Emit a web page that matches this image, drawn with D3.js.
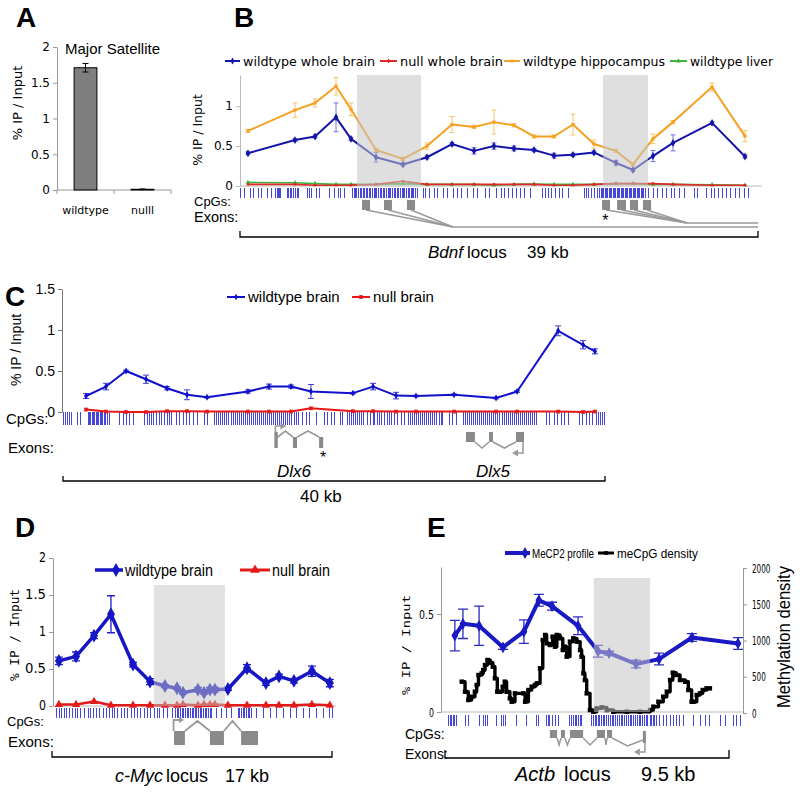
<!DOCTYPE html>
<html><head><meta charset="utf-8">
<script src="https://cdn.jsdelivr.net/npm/d3@7"></script>
<style>body{margin:0;background:#fff}svg{display:block}</style>
</head><body>
<script>
// ---------------- DATA ----------------
// Panel A
const aCategories = ["wildtype", "nulll"];
const aValues = [1.71, 0.01];
const aErrors = [0.06, 0.004];
const aYTicks = [0, 0.5, 1, 1.5, 2];

// Panel B (positions in kb along the 39 kb Bdnf locus)
const bPos = [0.60,4.14,5.65,7.23,8.36,10.24,12.27,14.08,15.96,17.62,19.12,20.63,22.14,23.64,25.07,26.65,28.31,29.59,31.09,32.60,35.54,38.02];
const bWtBrain = [0.41,0.575,0.62,0.86,0.59,0.36,0.27,0.36,0.525,0.44,0.50,0.47,0.45,0.38,0.39,0.42,0.29,0.20,0.375,0.54,0.79,0.37];
const bWtBrainErr = [0.02,0.02,0.02,0.18,0.02,0.06,0.02,0.02,0.02,0.04,0.04,0.03,0.02,0.03,0.02,0.02,0.03,0.02,0.07,0.10,0.02,0.02];
const bHippo = [0.69,0.95,1.04,1.25,0.96,0.45,0.34,0.50,0.77,0.74,0.80,0.76,0.62,0.62,0.77,0.525,0.44,0.27,0.59,0.80,1.24,0.625];
const bHippoErr = [0.02,0.09,0.05,0.11,0.08,0.02,0.02,0.04,0.10,0.02,0.15,0.02,0.02,0.02,0.13,0.05,0.02,0.02,0.06,0.02,0.05,0.07];
const bNull = [0.02,0.02,0.01,0.01,0.01,0.02,0.06,0.02,0.02,0.02,0.02,0.02,0.02,0.01,0.01,0.02,0.03,0.03,0.03,0.02,0.01,0.01];
const bLiver = [0.045,0.04,0.03,0.02,0.02,0.02,0.03,0.02,0.02,0.02,0.01,0.02,0.025,0.02,0.02,0.02,0.03,0.03,0.02,0.02,0.015,0.01];
const bYTicks = [0, 0.5, 1];
const bShade = [[8.81,13.63],[27.33,30.72]];
const bExonsA = [[9.19,9.79],[10.84,11.44],[12.57,13.18]];
const bExonsB = [[27.26,27.86],[28.39,29.06],[29.36,29.97],[30.34,30.95]];
const bJoin = [16.04, 33.66];
const bStar = 27.5;
const bCpG = [0.05,0.35,0.8,1.05,1.4,1.65,2.05,2.35,2.7,2.8,2.9,3.0,3.05,3.55,3.65,3.8,3.9,4.0,4.15,4.3,4.4,5.05,5.25,5.4,5.75,6.0,6.75,7.15,7.4,7.6,7.85,
 8.5,8.6,8.7,8.8,8.95,9.05,9.15,9.3,9.4,9.5,9.6,9.75,9.85,9.95,10.1,10.2,10.3,10.45,10.55,10.65,10.8,10.9,11.0,11.15,11.25,11.35,11.5,11.6,11.7,11.85,11.95,12.05,12.2,12.3,12.4,12.55,12.65,12.75,12.9,13.0,13.1,13.25,13.35,
 13.8,14.0,14.3,14.65,14.9,15.3,15.65,16.05,16.4,16.7,17.15,17.55,17.9,18.45,18.8,19.3,19.7,19.95,20.2,20.5,20.8,21.15,21.45,21.9,22.8,23.0,23.2,23.45,23.75,24.05,24.3,24.7,25.9,26.1,26.25,26.45,26.7,26.9,
 27.1,27.2,27.3,27.4,27.5,27.6,27.7,27.8,27.9,28.0,28.1,28.2,28.3,28.4,28.5,28.6,28.7,28.8,28.9,29.0,29.1,29.2,29.3,29.4,29.5,29.6,29.7,29.8,29.9,30.0,30.1,30.2,30.3,30.4,30.5,
 30.75,31.1,31.45,31.8,32.1,32.45,32.75,33.1,33.45,34.25,34.45,35.1,35.5,35.75,36.0,36.3,36.6,36.95,37.3,37.6,38.0,38.3];

// Panel C (kb along 40 kb Dlx5/Dlx6 locus)
const cPos = [1.70,3.17,4.65,6.13,7.68,9.15,10.63,13.65,15.2,16.83,18.3,21.4,22.88,24.58,26.05,28.86,31.96,33.51,36.54,38.38,39.26];
const cWt = [0.195,0.31,0.50,0.40,0.29,0.21,0.18,0.25,0.31,0.31,0.25,0.23,0.31,0.20,0.195,0.21,0.17,0.25,0.99,0.82,0.74];
const cWtErr = [0.03,0.04,0.01,0.05,0.02,0.06,0.01,0.02,0.03,0.02,0.085,0.01,0.04,0.04,0.01,0.01,0.01,0.01,0.06,0.05,0.03];
const cNull = [0.03,0.005,0.0,0.0,0.01,0.01,0.005,0.005,0.005,0.005,0.045,0.01,0.01,0.005,0.005,0.005,0.005,0.005,0.005,0.0,0.005];
const cYTicks = [0, 0.5, 1, 1.5];
const cDlx6Exons = [[15.6,15.85],[16.97,17.27],[18.9,19.2]];
const cDlx5Exons = [[29.74,30.4],[31.44,31.73],[33.43,34.02]];
const cCpG = [0,0.17,0.32,0.49,0.61,1.06,1.31,1.85,1.95,2.05,2.15,2.25,2.35,2.45,2.55,2.65,2.75,2.85,2.95,3.05,3.15,3.3,3.45,4.18,4.43,4.67,4.92,5.17,
 6.0,6.2,6.4,6.55,6.7,6.9,7.1,7.3,7.5,7.7,7.85,8.0,8.36,8.61,8.86,9.1,9.35,9.6,9.91,10.46,10.7,
 11.2,11.35,11.5,11.65,11.8,11.95,12.1,12.25,12.4,12.55,12.7,12.85,13.0,13.15,13.3,13.45,13.6,13.75,13.9,14.05,14.2,14.35,14.5,14.65,14.8,14.95,15.1,15.25,15.4,15.55,15.7,15.85,16.0,16.15,16.3,16.45,16.6,16.75,16.9,17.05,17.2,17.35,
 17.7,17.96,18.2,18.7,19.3,19.55,19.8,20.05,20.5,20.66,21.0,21.15,21.3,21.45,21.6,21.75,21.9,22.05,22.2,22.5,22.7,22.88,23.0,23.2,23.37,23.54,23.74,23.93,24.11,24.28,24.48,24.72,24.97,25.22,
 25.5,25.65,25.8,25.95,26.1,26.25,26.4,26.55,26.7,26.85,27.0,27.15,27.3,27.45,27.6,27.75,27.9,28.0,28.54,28.78,29.02,
 29.55,29.7,29.85,30.0,30.15,30.3,30.45,30.6,30.75,30.9,31.05,31.2,31.35,31.5,31.65,31.8,31.95,32.1,32.25,32.4,32.55,32.7,32.85,33.0,33.15,33.3,33.45,33.6,33.75,33.9,34.05,34.2,34.35,34.5,34.65,34.8,34.95,
 35.67,35.92,36.29,36.53,36.77,37.03,37.27,38.13,38.37,38.62,38.87,39.11,39.35,39.5,39.65,39.8,39.95];

// Panel D (kb along 17 kb c-Myc locus)
const dPos = [0.42,1.46,2.55,3.58,4.92,5.95,6.86,7.59,7.95,8.86,9.23,9.59,9.89,10.68,11.84,12.99,13.78,14.69,15.78,16.87];
const dWt = [0.61,0.67,0.95,1.24,0.56,0.33,0.27,0.24,0.18,0.22,0.18,0.22,0.22,0.23,0.51,0.31,0.40,0.34,0.47,0.31];
const dWtErr = [0.05,0.06,0.04,0.25,0.03,0.04,0.02,0.02,0.02,0.03,0.02,0.03,0.03,0.02,0.05,0.03,0.03,0.03,0.07,0.05];
const dNull = [0.02,0.02,0.06,0.01,0.01,0.01,0.01,0.01,0.02,0.01,0.02,0.02,0.02,0.01,0.01,0.01,0.01,0.01,0.02,0.01];
const dYTicks = [0, 0.5, 1, 1.5, 2];
const dShade = [[6.19,10.50]];
const dExons = [[7.41,8.07],[9.59,10.44],[11.48,12.51]];
const dCpG = [0.29,0.44,0.59,0.73,0.89,1.09,1.26,1.40,1.54,1.70,2.0,2.2,2.35,2.51,2.71,2.91,3.11,3.32,3.52,3.67,3.82,
 4.0,4.2,4.4,4.6,4.8,5.0,5.2,5.4,5.6,5.8,6.0,6.2,6.4,6.55,6.75,7.0,7.3,
 7.5,7.6,7.7,7.8,7.9,8.0,8.1,8.2,8.3,8.4,8.5,8.6,8.7,8.8,8.9,9.0,9.1,9.2,9.3,9.4,9.5,9.6,9.7,10.0,10.3,10.6,10.9,
 11.3,11.4,11.5,11.6,11.7,11.8,11.9,12.0,12.1,12.43,12.83,13.24,13.64,14.04,14.45,14.85,15.25,15.66,16.07,16.47,16.87,17.06];

// Panel E (kb along 9.5 kb Actb locus)
const ePos = [0.33,0.60,1.14,1.94,2.64,3.14,3.58,4.45,5.12,5.49,6.39,7.16,8.26,9.80];
const eMecp2 = [0.39,0.45,0.44,0.33,0.41,0.57,0.54,0.44,0.31,0.30,0.245,0.27,0.38,0.35];
const eMecp2Err = [0.078,0.075,0.10,0.01,0.06,0.03,0.02,0.045,0.03,0.01,0.02,0.03,0.02,0.03];
const eDensPos = [0.56,0.67,0.78,0.89,1.0,1.06,1.12,1.23,1.28,1.34,1.42,1.51,1.6,1.67,1.75,1.84,1.93,2.0,2.06,2.17,2.23,2.34,2.62,2.68,2.79,2.9,3.01,3.07,3.18,3.27,3.35,3.4,3.51,3.6,3.68,3.74,3.85,3.94,4.01,4.07,4.18,4.29,4.41,4.52,4.57,4.63,4.68,4.74,4.85,4.96,5.07,5.24,5.41,5.63,6.08,6.52,6.86,6.97,7.14,7.3,7.42,7.53,7.62,7.73,7.86,8.03,8.14,8.25,8.31,8.42,8.53,8.62,8.75,8.86];
const eDens = [432,294,179,225,294,386,524,547,593,662,731,694,639,478,294,294,363,432,294,202,156,271,271,156,317,363,386,409,616,1007,1076,961,938,1053,915,1076,1030,869,915,777,984,1030,984,869,777,547,455,271,41,18,64,78,41,18,18,18,41,87,156,225,294,455,556,524,455,432,317,156,156,248,271,317,340,340];
const eYTicks = [0, 0.5];
const eY2Ticks = [0, 500, 1000, 1500, 2000];
const eShade = [[4.98,6.86]];
const eExons = [[3.51,3.75],[3.88,4.01],[4.18,4.62],[5.08,5.35],[5.42,5.59]];
const eLastExon = [6.62,6.72];
const eCpG = [0.11,0.17,0.22,0.28,0.33,0.39,0.67,0.78,1.17,1.28,1.34,1.41,1.73,1.9,1.95,2.01,2.4,2.73,3.07,3.12,3.4,3.46,3.51,3.6,3.68,3.79,4.18,4.24,4.29,4.35,4.41,4.46,4.52,4.57,
 4.91,4.96,5.02,5.07,5.13,5.18,5.24,5.3,5.35,5.41,5.47,5.53,5.59,5.65,5.71,5.77,5.83,5.89,5.95,6.01,6.07,6.13,6.19,6.25,6.31,6.37,6.43,6.49,6.55,6.61,6.67,6.73,6.79,
 6.86,6.91,6.97,7.02,7.08,7.19,7.3,7.42,7.53,7.64,7.75,7.86,7.97,8.31,8.53,8.7,8.86,9.2,9.37,9.64,9.76,9.87];

// ---------------- DRAWING ----------------
const svg = d3.select("body").append("svg").attr("width",800).attr("height",792);
const SANS = "'Liberation Sans', Arial, sans-serif";
const DEJ = "'DejaVu Sans', Verdana, sans-serif";
const MONO = "'DejaVu Sans Mono', monospace";

function text(x,y,s,o={}){
  const t = svg.append("text").attr("x",x).attr("y",y)
    .attr("font-family",o.font||SANS).attr("font-size",o.size||14)
    .attr("fill",o.fill||"#000").attr("text-anchor",o.anchor||"start");
  if(o.weight) t.attr("font-weight",o.weight);
  if(o.italic) t.attr("font-style","italic");
  if(o.rotate) t.attr("transform",`rotate(-90,${x},${y})`);
  if(o.len) t.attr("textLength",o.len).attr("lengthAdjust","spacingAndGlyphs");
  t.text(s); return t;
}
function yAxis(scale,x,ticks,o){
  const ax = (o.right? d3.axisRight(scale): d3.axisLeft(scale)).tickValues(ticks).tickFormat(d=>String(d)).tickSize(4).tickSizeOuter(0).tickPadding(o.pad||3);
  const g = svg.append("g").attr("transform",`translate(${x},0)`).call(ax);
  g.select(".domain").attr("stroke",o.color||"#999");
  g.selectAll(".tick line").attr("stroke",o.color||"#999");
  const tx = g.selectAll(".tick text").attr("font-family",o.font||DEJ).attr("font-size",o.size||12).attr("fill","#000");
  if(o.dy) tx.attr("dy",o.dy);
  if(o.charW) tx.attr("textLength",d=>String(d).length*o.charW).attr("lengthAdjust","spacingAndGlyphs");
  return g;
}
function hline(x0,x1,y,c,w){ svg.append("line").attr("x1",x0).attr("x2",x1).attr("y1",y).attr("y2",y).attr("stroke",c||"#aaa").attr("stroke-width",w||1); }
function cpgs(pos,xS,y0,y1){
  svg.append("g").selectAll("line").data(pos).join("line")
    .attr("x1",d=>xS(d)).attr("x2",d=>xS(d)).attr("y1",y0).attr("y2",y1)
    .attr("stroke","#2626d4").attr("stroke-width",1).attr("stroke-opacity",0.85).attr("shape-rendering","crispEdges");
}
function shade(ranges,xS,y0,y1,op){
  svg.append("g").selectAll("rect").data(ranges).join("rect")
    .attr("x",d=>xS(d[0])).attr("width",d=>xS(d[1])-xS(d[0])).attr("y",y0).attr("height",y1-y0)
    .attr("fill","#c4c4c4").attr("fill-opacity",op||0.5);
}
function bracket(xS,d0,d1,y,h){
  svg.append("path").attr("d",`M${xS(d0)},${y-h}V${y}H${xS(d1)}V${y-h}`).attr("fill","none").attr("stroke","#000").attr("stroke-width",1.3);
}
function series(xs,ys,errs,xS,yS,o){
  const pts = xs.map((x,i)=>({x:xS(x),v:ys[i],e:errs?errs[i]:0}));
  const g = svg.append("g");
  if(errs){
    const eg = g.append("g").attr("stroke",o.errColor||o.color).attr("stroke-width",o.errWidth||1).attr("fill","none");
    eg.selectAll("path").data(pts.filter(p=>p.e>0)).join("path")
      .attr("d",p=>{const a=yS(p.v+p.e), b=yS(p.v-p.e), c=o.cap||2.5;
        return `M${p.x},${a}V${b}M${p.x-c},${a}H${p.x+c}M${p.x-c},${b}H${p.x+c}`;});
  }
  g.append("path").datum(pts).attr("fill","none").attr("stroke",o.color).attr("stroke-width",o.width||2)
    .attr("stroke-linejoin","round").attr("d",d3.line().x(p=>p.x).y(p=>yS(p.v)).curve(o.curve||d3.curveLinear));
  if(o.symbol){
    g.selectAll(".m").data(pts).join("path").attr("class","m")
      .attr("transform",p=>`translate(${p.x},${yS(p.v)})`)
      .attr("d",d3.symbol(o.symbol,o.size||20)).attr("fill",o.color);
  }
}
function legendItem(x0,x1,y,color,w,symbol,size,label,tx,ty,o){
  hline(x0,x1,y,color,w);
  if(symbol) svg.append("path").attr("transform",`translate(${o.mx!=null?o.mx:(x0+x1)/2},${y})`).attr("d",d3.symbol(symbol,size)).attr("fill",color);
  text(tx,ty,label,o);
}

// ===== Panel A =====
text(16,27,"A",{size:28,weight:"bold"});
const yA = d3.scaleLinear().domain([0,2]).range([190,47]);
const xA = d3.scaleBand().domain(aCategories).range([57,171]).paddingInner(0.6).paddingOuter(0.3);
yAxis(yA,57,aYTicks,{font:DEJ,size:12,color:"#999"});
hline(57,171,190,"#999");
svg.append("g").selectAll("line").data([57,114,171]).join("line").attr("x1",d=>d).attr("x2",d=>d).attr("y1",190).attr("y2",194).attr("stroke","#999");
svg.append("g").selectAll("rect").data(aValues).join("rect")
  .attr("x",(d,i)=>xA(aCategories[i])).attr("width",xA.bandwidth())
  .attr("y",d=>yA(d)).attr("height",d=>yA(0)-yA(d))
  .attr("fill","#7f7f7f").attr("stroke","#000").attr("stroke-width",1);
svg.append("g").selectAll("path").data(aValues).join("path")
  .attr("d",(d,i)=>{const x=xA(aCategories[i])+xA.bandwidth()/2,a=yA(d+aErrors[i]),b=yA(d-aErrors[i]);return `M${x},${a}V${b}M${x-3},${a}H${x+3}M${x-3},${b}H${x+3}`;})
  .attr("stroke","#000").attr("fill","none");
svg.append("g").selectAll("text").data(aCategories).join("text")
  .attr("x",d=>xA(d)+xA.bandwidth()/2).attr("y",214).attr("text-anchor","middle")
  .attr("font-family",DEJ).attr("font-size",11).text(d=>d);
text(65,54,"Major Satellite",{size:15});
text(22,103,"% IP / Input",{font:DEJ,size:13,anchor:"middle",rotate:true});

// ===== Panel B =====
text(234,27,"B",{size:28,weight:"bold"});
const xB = d3.scaleLinear().domain([0,39]).range([240,758]);
const yB = d3.scaleLinear().domain([0,1.39]).range([186,75]);
yAxis(yB,240,bYTicks,{font:DEJ,size:12,color:"#bbb"});
hline(240,762,186,"#bbb");
cpgs(bCpG,xB,188,198);
series(bPos,bLiver,null,xB,yB,{color:"#3cb43c",width:1.6,symbol:d3.symbolTriangle,size:10});
series(bPos,bNull,null,xB,yB,{color:"#e02828",width:1.6,symbol:d3.symbolSquare,size:6});
series(bPos,bHippo,bHippoErr,xB,yB,{color:"#f5a020",errColor:"#f8c466",width:2,symbol:d3.symbolSquare,size:10,cap:2.5});
series(bPos,bWtBrain,bWtBrainErr,xB,yB,{color:"#1414aa",errColor:"#7676d8",width:2,symbol:d3.symbolDiamond,size:18,cap:2.5});
shade(bShade,xB,75,186,0.55);
text(202,130,"% IP / Input",{font:DEJ,size:12.5,anchor:"middle",rotate:true});
legendItem(225,240,61,"#1414aa",2,d3.symbolDiamond,14,"wildtype whole brain",243,66,{font:DEJ,size:12,len:132});
legendItem(380,397,61,"#e02828",2,d3.symbolCross,10,"null whole brain",400,66,{font:DEJ,size:12,len:103});
legendItem(504,520,61,"#f5a020",2,d3.symbolSquare,8,"wildtype hippocampus",523,66,{font:DEJ,size:12,len:142});
legendItem(670,687,61,"#3cb43c",2,d3.symbolTriangle,10,"wildtype liver",690,66,{font:DEJ,size:12,len:83});
text(194,205.5,"CpGs:",{size:13});
text(194,222,"Exons:",{size:14.5});
const exG = svg.append("g");
function exonLinks(exons,join,yJ){
  exG.append("g").selectAll("path").data(exons).join("path")
    .attr("d",d=>`M${xB((d[0]+d[1])/2)},${210}L${xB(join)},${yJ}`).attr("stroke","#999").attr("stroke-width",1.4).attr("fill","none");
  exG.append("g").selectAll("rect").data(exons).join("rect")
    .attr("x",d=>xB(d[0])).attr("width",d=>xB(d[1])-xB(d[0])).attr("y",200).attr("height",10).attr("fill","#8a8a8a");
}
exonLinks(bExonsA,bJoin[0],227);
exonLinks(bExonsB,bJoin[1],223);
hline(xB(bJoin[0]),xB(39),227,"#999",1.4);
hline(xB(bJoin[1]),xB(39),223,"#999",1.4);
text(xB(bStar),226,"*",{size:16,anchor:"middle"});
bracket(xB,0,39,237,6);
text(428,258,"Bdnf",{size:17,italic:true});
text(467,258,"locus",{size:17});
text(527,258,"39 kb",{size:17});

// ===== Panel C =====
text(5,306,"C",{size:28,weight:"bold"});
const xC = d3.scaleLinear().domain([0,40]).range([63,605]);
const yC = d3.scaleLinear().domain([0,1.5]).range([412,289]);
yAxis(yC,62,cYTicks,{font:SANS,size:14,color:"#777"});
cpgs(cCpG,xC,412,425);
series(cPos,cNull,null,xC,yC,{color:"#e81818",width:2,symbol:d3.symbolSquare,size:14});
series(cPos,cWt,cWtErr,xC,yC,{color:"#1010cc",errColor:"#3a3ad0",width:2,symbol:d3.symbolDiamond,size:14,cap:3});
text(21,350,"% IP / Input",{size:14,anchor:"middle",rotate:true});
legendItem(227,245,297,"#1010cc",2,d3.symbolDiamond,12,"wildtype brain",248,302,{size:15});
legendItem(352,370,297,"#e81818",2,d3.symbolSquare,14,"null brain",373,302,{size:15});
text(6,424,"CpGs:",{size:15});
text(8,453,"Exons:",{size:15});
const gC = svg.append("g");
gC.append("g").selectAll("rect").data(cDlx6Exons).join("rect")
  .attr("x",d=>xC(d[0])).attr("width",d=>xC(d[1])-xC(d[0])).attr("y",(d,i)=>i===0?432:437).attr("height",(d,i)=>i===0?16:11).attr("fill","#8a8a8a");
gC.append("path").attr("fill","none").attr("stroke","#999").attr("stroke-width",1.6)
  .attr("d",`M${xC(cDlx6Exons[0][1])},437L${(xC(cDlx6Exons[0][1])+xC(cDlx6Exons[1][0]))/2},431L${xC(cDlx6Exons[1][0])},437`+
            `M${xC(cDlx6Exons[1][1])},437L${(xC(cDlx6Exons[1][1])+xC(cDlx6Exons[2][0]))/2},431L${xC(cDlx6Exons[2][0])},437`);
gC.append("path").attr("fill","none").attr("stroke","#999").attr("stroke-width",1.6)
  .attr("d",`M${xC(cDlx6Exons[0][0])+1},432V426H${xC(cDlx6Exons[0][0])+7}`);
gC.append("path").attr("fill","#999").attr("d",`M${xC(cDlx6Exons[0][0])+12},426l-6,-3.5v7z`);
text(xC(cDlx6Exons[2][1]),463,"*",{size:16,anchor:"middle"});
gC.append("g").selectAll("rect").data(cDlx5Exons).join("rect")
  .attr("x",d=>xC(d[0])).attr("width",d=>xC(d[1])-xC(d[0])).attr("y",432).attr("height",10).attr("fill","#8a8a8a");
gC.append("path").attr("fill","none").attr("stroke","#999").attr("stroke-width",1.6)
  .attr("d",`M${xC(cDlx5Exons[0][1])},442L${(xC(cDlx5Exons[0][1])+xC(cDlx5Exons[1][0]))/2},448L${xC(cDlx5Exons[1][0])},442`+
            `M${xC(cDlx5Exons[1][1])},442L${(xC(cDlx5Exons[1][1])+xC(cDlx5Exons[2][0]))/2},448L${xC(cDlx5Exons[2][0])},442`+
            `M${xC(cDlx5Exons[2][1])-1},442V453H${xC(cDlx5Exons[2][1])-6}`);
gC.append("path").attr("fill","#999").attr("d",`M${xC(cDlx5Exons[2][1])-12},453l6,-3.5v7z`);
text(277,477,"Dlx6",{size:17,italic:true});
text(476,477,"Dlx5",{size:17,italic:true});
bracket(xC,0,40,481,5);
text(300,502,"40 kb",{size:17});

// ===== Panel D =====
text(15,537,"D",{size:28,weight:"bold"});
const xD = d3.scaleLinear().domain([0,17]).range([52,332]);
const yD = d3.scaleLinear().domain([0,2]).range([706,558]);
yAxis(yD,53,dYTicks,{font:DEJ,size:14,color:"#999",charW:7,dy:"0.25em"});
hline(53,336,706,"#bbb");
cpgs(dCpG,xD,708,718);
series(dPos,dNull,null,xD,yD,{color:"#e31a1a",width:2.5,symbol:d3.symbolTriangle,size:30});
series(dPos,dWt,dWtErr,xD,yD,{color:"#1616c4",errColor:"#2020c8",errWidth:1.3,width:3.5,symbol:d3.symbolDiamond,size:55,cap:4});
shade(dShade,xD,585,706,0.5);
text(19,635,"% IP / Input",{font:MONO,size:12.5,anchor:"middle",rotate:true,len:92});
legendItem(95,123,570,"#1616c4",3.5,d3.symbolDiamond,55,"wildtype brain",125,576,{size:16,len:88,mx:116});
legendItem(240,270,570,"#e31a1a",3,d3.symbolTriangle,40,"null brain",272,576,{size:16,len:58,mx:255});
text(7,725.5,"CpGs:",{size:13});
text(8,747,"Exons:",{size:15});
const gD = svg.append("g");
gD.append("path").attr("fill","none").attr("stroke","#999").attr("stroke-width",1.8)
  .attr("d",`M${xD(dExons[0][1])},731L${(xD(dExons[0][1])+xD(dExons[1][0]))/2},721L${xD(dExons[1][0])},731`+
            `M${xD(dExons[1][1])},731L${(xD(dExons[1][1])+xD(dExons[2][0]))/2},721L${xD(dExons[2][0])},731`+
            `M${xD(dExons[0][0])-0.5},731V720H${xD(dExons[0][0])+6}`);
gD.append("path").attr("fill","#999").attr("d",`M${xD(dExons[0][0])+10},720l-5,-3v6z`);
gD.append("g").selectAll("rect").data(dExons).join("rect")
  .attr("x",d=>xD(d[0])).attr("width",d=>xD(d[1])-xD(d[0])).attr("y",731).attr("height",14).attr("fill","#8a8a8a");
bracket(xD,0,17,757,6);
text(115,782,"c-Myc",{size:18,italic:true});
text(166,782,"locus",{size:18});
text(225,782,"17 kb",{size:18});

// ===== Panel E =====
text(427,537,"E",{size:28,weight:"bold"});
const xE = d3.scaleLinear().domain([0,9.5]).range([445,729]);
const yE = d3.scaleLinear().domain([0,0.74]).range([712,567]);
const yE2 = d3.scaleLinear().domain([0,2000]).range([713,568]);
yAxis(yE,441,eYTicks,{font:DEJ,size:13,color:"#999",charW:5});
yAxis(yE2,743,eY2Ticks,{font:DEJ,size:13,color:"#999",right:true,pad:5,charW:4.6});
hline(441,743,712,"#bbb");
cpgs(eCpG,xE,715,726);
series(eDensPos,eDens,null,xE,yE2,{color:"#000",width:3.4,symbol:d3.symbolSquare,size:20,curve:d3.curveStepAfter});
series(ePos,eMecp2,eMecp2Err,xE,yE,{color:"#1a1ac4",errColor:"#2a2ac8",errWidth:1.3,width:4,symbol:d3.symbolDiamond,size:40,cap:5});
shade(eShade,xE,578,712,0.55);
text(410,645,"% IP / Input",{font:MONO,size:11,anchor:"middle",rotate:true,len:100});
text(790,637,"Methylation density",{size:18,anchor:"middle",rotate:true,len:142});
legendItem(505,530,553,"#1a1ac4",4,d3.symbolDiamond,40,"MeCP2 profile",532,558,{size:13,len:62,mx:525});
legendItem(598,614,553,"#000",3,d3.symbolSquare,14,"meCpG density",617,558,{size:13,len:81,mx:606});
text(405,739,"CpGs:",{size:14});
text(405,759,"Exons:",{size:14});
const gE = svg.append("g");
gE.append("path").attr("fill","none").attr("stroke","#999").attr("stroke-width",1.5)
  .attr("d", eExons.slice(0,-1).map((d,i)=>{const n=eExons[i+1];return `M${xE(d[1])},738L${(xE(d[1])+xE(n[0]))/2},745L${xE(n[0])},738`;}).join("")+
     `M${xE(eExons[4][1])},738L${(xE(eExons[4][1])+xE(eLastExon[0]))/2},746L${xE(eLastExon[0])},740`+
     `M${xE(eLastExon[1])-1},743V752H${xE(eLastExon[1])-6}`);
gE.append("path").attr("fill","#999").attr("d",`M${xE(eLastExon[1])-12},752l6,-3.5v7z`);
gE.append("g").selectAll("rect").data(eExons).join("rect")
  .attr("x",d=>xE(d[0])).attr("width",d=>xE(d[1])-xE(d[0])).attr("y",730).attr("height",8).attr("fill","#8a8a8a");
gE.append("rect").attr("x",xE(eLastExon[0])).attr("width",xE(eLastExon[1])-xE(eLastExon[0])).attr("y",731).attr("height",12).attr("fill","#8a8a8a");
bracket(xE,0,9.5,758,8);
text(515,781,"Actb",{size:20,italic:true});
text(564,781,"locus",{size:20});
text(641,781,"9.5 kb",{size:20});
</script>
</body></html>
